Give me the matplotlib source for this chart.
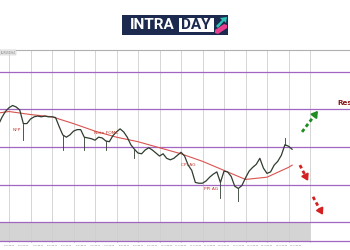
import matplotlib
matplotlib.use("Agg")
import matplotlib.pyplot as plt
from matplotlib.patches import Rectangle, Polygon
import numpy as np

# ---- data ----
closes = [1.0879, 1.0889, 1.0897, 1.0902, 1.0905, 1.0903, 1.0899, 1.0881, 1.0881, 1.0887,
          1.0890, 1.0891, 1.0890, 1.0891, 1.0890, 1.0890, 1.0889, 1.0877, 1.0866, 1.0863,
          1.0866, 1.0871, 1.0873, 1.0873, 1.0863, 1.0862, 1.0861, 1.0859, 1.0863, 1.0862,
          1.0858, 1.0857, 1.0865, 1.0870, 1.0874, 1.0870, 1.0863, 1.0853, 1.0847, 1.0842,
          1.0841, 1.0846, 1.0849, 1.0846, 1.0842, 1.0838, 1.0841, 1.0835, 1.0833, 1.0835,
          1.0839, 1.0843, 1.0838, 1.0826, 1.0819, 1.0803, 1.0802, 1.0802, 1.0805, 1.0810,
          1.0814, 1.0817, 1.0803, 1.0818, 1.0817, 1.0811, 1.0798, 1.0795, 1.0799, 1.0809,
          1.0818, 1.0823, 1.0827, 1.0835, 1.0822, 1.0815, 1.0817, 1.0826, 1.0831, 1.0839,
          1.0853, 1.0851, 1.0847]
bar_start_day = -0.5
bars_per_day = 6

wick_bars = [7, 18, 24, 30, 38, 62, 67, 80]
wick_ext = [1.0859, 1.0846, 1.0846, 1.0846, 1.0835, 1.0783, 1.0779, 1.0862]

ma_days = [-0.5, 0, 1, 2, 3, 4, 5, 6, 7, 8, 9, 10, 11, 12, 13, 13.17]
ma_vals = [1.0895, 1.0897, 1.0893, 1.0890, 1.0881, 1.0871, 1.0863, 1.0857, 1.0849,
           1.0841, 1.0831, 1.0819, 1.0807, 1.0810, 1.0823, 1.0826]

levels = [1.0950, 1.0900, 1.0850, 1.0800, 1.0750, 1.0725]
band = (1.0725, 1.0750)
grid_days = list(range(0, 15))

date_labels = ["3 Jun 00:00", "3 Jun 16:00", "4 Jun 08:00", "5 Jun 00:00", "5 Jun 16:00",
               "6 Jun 08:00", "7 Jun 00:00", "7 Jun 16:00", "8 Jun 08:00", "9 Jun 00:00",
               "9 Jun 16:00", "10 Jun 08:00", "11 Jun 00:00", "11 Jun 16:00", "12 Jun 08:00",
               "13 Jun 00:00", "13 Jun 16:00", "14 Jun 08:00", "15 Jun 00:00", "15 Jun 16:00",
               "16 Jun 08:00"]
label_step_days = 2 / 3

events = ["NFP", "Note FOMC", "CPI AG", "PPI AG"]
event_days = [0.35, 4.5, 8.33, 9.4]
event_prices = [1.0873, 1.0869, 1.0826, 1.0794]

arrows_from = [(13.63, 1.0870), (13.53, 1.0826), (14.14, 1.0784)]
arrows_to = [(14.37, 1.0898), (13.91, 1.0805), (14.60, 1.0760)]
arrow_colors = ["#1e8c1e", "#d42020", "#d42020"]

# ---- figure ----
fig = plt.figure(figsize=(3.5, 2.5), dpi=100)
fig.patch.set_facecolor("white")
ax = fig.add_axes([0, 7 / 250, 1, 193 / 250])
xmin, xmax = -0.4186, 15.86
ax.set_xlim(xmin, xmax)
ax.set_ylim(1.07228, 1.09785)
for s in ["left", "right", "bottom"]:
    ax.spines[s].set_visible(False)
ax.spines["top"].set_color("#b0b0b0")
ax.spines["top"].set_linewidth(0.8)
ax.set_xticks([])
ax.set_yticks([])

for d in grid_days:
    ax.axvline(d, color="#cfcfcf", lw=0.6, zorder=1)

ax.fill_between([xmin, 14], band[0], band[1], color="#d4d4d4", lw=0, zorder=0.5)
for lv in levels:
    ax.axhline(lv, color="#a066c0", lw=0.9, zorder=2)

bar_days = bar_start_day + np.arange(len(closes)) / bars_per_day
ax.plot(bar_days, closes, color="#2f3d2f", lw=0.9, zorder=4)
for b, e in zip(wick_bars, wick_ext):
    ax.plot([bar_days[b], bar_days[b]], [closes[b], e], color="#2f3d2f", lw=0.6, zorder=4)

ax.plot(ma_days, ma_vals, color="#d9534f", lw=0.8, zorder=3)

for t, d, p in zip(events, event_days, event_prices):
    ax.text(d, p, t, color="#c0392b", fontsize=3.2, ha="center", va="center", zorder=5)

ax.text(15.28, 1.0908, "Resistenza", color="#8b1a1a", fontsize=5.2, fontweight="bold",
        ha="left", va="center", clip_on=False)

for (x0, y0), (x1, y1), col in zip(arrows_from, arrows_to, arrow_colors):
    xs = x0 + 0.85 * (x1 - x0)
    ys = y0 + 0.85 * (y1 - y0)
    ax.plot([x0, xs], [y0, ys], color=col, lw=2.0, linestyle=(0, (1.3, 1.0)),
            solid_capstyle="butt", dash_capstyle="butt", zorder=6)
    ax.annotate("", xy=(x1, y1), xytext=(xs, ys),
                arrowprops=dict(arrowstyle="-|>,head_length=0.35,head_width=0.22",
                                color=col, lw=1.4, shrinkA=0, shrinkB=0,
                                mutation_scale=10), zorder=6)

for i, lab in enumerate(date_labels):
    ax.text(i * label_step_days, -0.008, lab, transform=ax.get_xaxis_transform(),
            fontsize=1.3, color="#777777", ha="center", va="top", clip_on=False)

ax.text(0.002, 0.997, "EURUSD,H4", transform=ax.transAxes, fontsize=1.8, color="#666666",
        ha="left", va="top", bbox=dict(boxstyle="square,pad=0.2", fc="#eeeeee", ec="#bbbbbb", lw=0.3))

# ---- logo ----
W, H = 350, 250
def fx(x):
    return x / W
def fy(y):
    return 1 - y / H
fig.patches.append(Rectangle((fx(122), fy(35)), 106 / W, 20 / H, transform=fig.transFigure,
                             facecolor="#1b2a4e", edgecolor="none", zorder=1))
fig.patches.append(Rectangle((fx(178.5), fy(32)), 35 / W, 14 / H, transform=fig.transFigure,
                             facecolor="white", edgecolor="none", zorder=2))
fig.text(fx(152), fy(25.2), "INTRA", color="white", fontsize=11, fontweight="bold",
         family="Roboto", ha="center", va="center", zorder=3)
fig.text(fx(196), fy(25.2), "DAY", color="#1b2a4e", fontsize=11, fontweight="bold",
         family="Roboto", ha="center", va="center", zorder=3)
fig.patches.append(Polygon([(fx(216), fy(26)), (fx(222), fy(20)), (fx(220), fy(18)), (fx(227), fy(17)),
                            (fx(226), fy(23)), (fx(224), fy(21)), (fx(218), fy(28))],
                           closed=True, transform=fig.transFigure, facecolor="#2ec4b6",
                           edgecolor="none", zorder=3))
fig.patches.append(Polygon([(fx(215), fy(33)), (fx(215), fy(30)), (fx(224), fy(24)), (fx(227), fy(25)),
                            (fx(227), fy(28)), (fx(218), fy(34))],
                           closed=True, transform=fig.transFigure, facecolor="#e83e8c",
                           edgecolor="none", zorder=3))

fig.savefig("out.png", dpi=100, facecolor="white")
